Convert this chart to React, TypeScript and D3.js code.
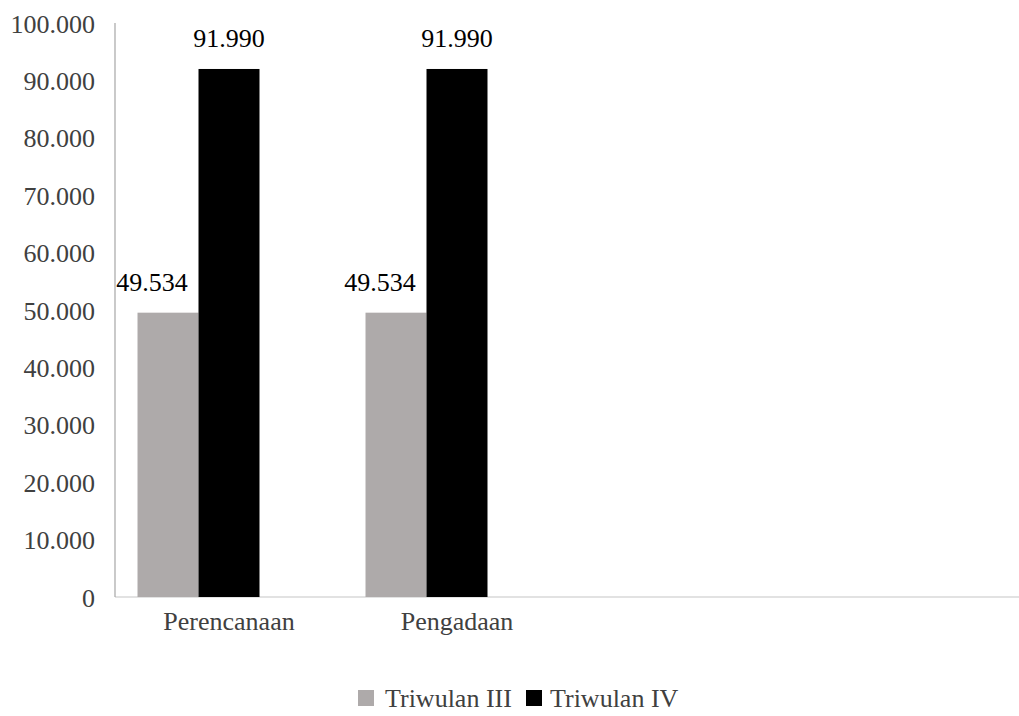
import React from "react";
import * as d3 from "d3";

const categories = ["Perencanaan", "Pengadaan", "", ""];
const seriesKeys = ["Triwulan III", "Triwulan IV", "(kosong)"];
const legendKeys = ["Triwulan III", "Triwulan IV"];
const triwulanIII = [49534, 49534, null, null];
const triwulanIV = [91990, 91990, null, null];
const kosong = [null, null, null, null];
const yTicks = [0, 10000, 20000, 30000, 40000, 50000, 60000, 70000, 80000, 90000, 100000];

const colors: Record<string, string> = {
  "Triwulan III": "#aeaaaa",
  "Triwulan IV": "#000000",
  "(kosong)": "#5b9bd5",
};

const W = 1019;
const H = 716;
const FONT = "'Liberation Serif', 'Times New Roman', serif";

const fmt = (v: number) => {
  const s = d3.format(",.0f")(v / 1000 * 1000);
  return v === 0 ? "0" : (v / 1000).toFixed(3);
};

export default function App() {
  const left = 115;
  const top = 23;
  const bottom = 597;
  const y = d3.scaleLinear().domain([0, 100000]).range([bottom, top]);
  const x0 = d3
    .scaleBand<number>()
    .domain(categories.map((_, i) => i))
    .range([left, left + 228 * categories.length])
    .padding(0);
  const x1 = d3
    .scaleBand<string>()
    .domain(seriesKeys)
    .range([0, x0.bandwidth()])
    .paddingInner(0)
    .paddingOuter(0.369);

  const seriesData: Record<string, (number | null)[]> = {
    "Triwulan III": triwulanIII,
    "Triwulan IV": triwulanIV,
    "(kosong)": kosong,
  };

  const labelDx: Record<string, number> = { "Triwulan III": -16, "Triwulan IV": 0, "(kosong)": 0 };

  const legendPos = [358, 526];
  const legendTextX = [385, 550];

  return (
    <svg width={W} height={H} style={{ position: "absolute", left: 0, top: 0, background: "#fff" }}>
      <rect x={0} y={0} width={W} height={H} fill="#fff" />
      {/* baseline */}
      <line x1={left} x2={W} y1={bottom} y2={bottom} stroke="#d9d9d9" strokeWidth={1.5} />
      {/* y axis */}
      <line x1={left} x2={left} y1={top} y2={bottom} stroke="#a6a6a6" strokeWidth={1.2} />
      {yTicks.map((t) => (
        <text
          key={t}
          x={95}
          y={y(t) + 9.5}
          textAnchor="end"
          fontFamily={FONT}
          fontSize={26}
          fill="#404040"
        >
          {fmt(t)}
        </text>
      ))}
      {categories.map((c, i) => (
        <g key={i} transform={`translate(${x0(i)},0)`}>
          {seriesKeys.map((k) => {
            const v = seriesData[k][i];
            if (v == null) return null;
            const bx = x1(k)!;
            return (
              <g key={k}>
                <rect x={bx} y={y(v)} width={x1.bandwidth()} height={bottom - y(v)} fill={colors[k]} />
                <text
                  x={bx + x1.bandwidth() / 2 + labelDx[k]}
                  y={y(v) - 22}
                  textAnchor="middle"
                  fontFamily={FONT}
                  fontSize={26}
                  fill="#000"
                >
                  {fmt(v)}
                </text>
              </g>
            );
          })}
          <text
            x={x0.bandwidth() / 2}
            y={630}
            textAnchor="middle"
            fontFamily={FONT}
            fontSize={26}
            fill="#404040"
          >
            {c}
          </text>
        </g>
      ))}
      {legendKeys.map((k, i) => (
        <g key={k}>
          <rect x={legendPos[i]} y={690} width={16} height={16} fill={colors[k]} />
          <text x={legendTextX[i]} y={707} fontFamily={FONT} fontSize={26} fill="#404040">
            {k}
          </text>
        </g>
      ))}
    </svg>
  );
}
